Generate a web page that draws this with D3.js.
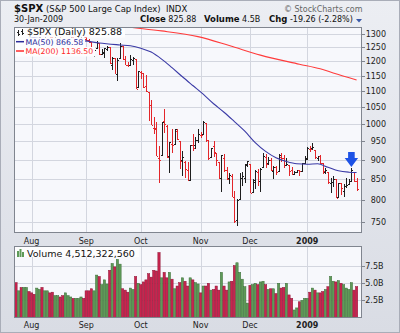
<!DOCTYPE html>
<html><head><meta charset="utf-8">
<script src="https://cdn.jsdelivr.net/npm/d3@7/dist/d3.min.js"></script>
<style>
html,body{margin:0;padding:0;background:#fff;}
svg{display:block;font-family:"DejaVu Sans",Verdana,sans-serif;}
</style></head><body>
<svg id="c" width="400" height="333"></svg>
<script>
// ---------- DATA ----------
const dates = [
"2008-07-24","2008-07-25","2008-07-28","2008-07-29","2008-07-30","2008-07-31",
"2008-08-01","2008-08-04","2008-08-05","2008-08-06","2008-08-07","2008-08-08","2008-08-11","2008-08-12","2008-08-13","2008-08-14","2008-08-15","2008-08-18","2008-08-19","2008-08-20","2008-08-21","2008-08-22","2008-08-25","2008-08-26","2008-08-27","2008-08-28","2008-08-29",
"2008-09-02","2008-09-03","2008-09-04","2008-09-05","2008-09-08","2008-09-09","2008-09-10","2008-09-11","2008-09-12","2008-09-15","2008-09-16","2008-09-17","2008-09-18","2008-09-19","2008-09-22","2008-09-23","2008-09-24","2008-09-25","2008-09-26","2008-09-29","2008-09-30",
"2008-10-01","2008-10-02","2008-10-03","2008-10-06","2008-10-07","2008-10-08","2008-10-09","2008-10-10","2008-10-13","2008-10-14","2008-10-15","2008-10-16","2008-10-17","2008-10-20","2008-10-21","2008-10-22","2008-10-23","2008-10-24","2008-10-27","2008-10-28","2008-10-29","2008-10-30","2008-10-31",
"2008-11-03","2008-11-04","2008-11-05","2008-11-06","2008-11-07","2008-11-10","2008-11-11","2008-11-12","2008-11-13","2008-11-14","2008-11-17","2008-11-18","2008-11-19","2008-11-20","2008-11-21","2008-11-24","2008-11-25","2008-11-26","2008-11-28",
"2008-12-01","2008-12-02","2008-12-03","2008-12-04","2008-12-05","2008-12-08","2008-12-09","2008-12-10","2008-12-11","2008-12-12","2008-12-15","2008-12-16","2008-12-17","2008-12-18","2008-12-19","2008-12-22","2008-12-23","2008-12-24","2008-12-26","2008-12-29","2008-12-30","2008-12-31",
"2009-01-02","2009-01-05","2009-01-06","2009-01-07","2009-01-08","2009-01-09","2009-01-12","2009-01-13","2009-01-14","2009-01-15","2009-01-16","2009-01-20","2009-01-21","2009-01-22","2009-01-23","2009-01-26","2009-01-27","2009-01-28","2009-01-29","2009-01-30"];

const open = [
1283,1252.5,1257.8,1236,1264,1281,
1269,1253,1254,1284,1286,1266,1294,1304,1288,1283,1293,1298,1277,1267,1271,1277,1290,1268,1271,1283,1296,
1287,1276,1271,1233,1249,1268,1227,1229,1245,1250,1188,1211,1157,1213,1255,1207,1189,1187,1204,1209,1113,
1162,1160,1115,1097,1057,988,988,903,912,1009,994,909,942,943,980,951,899,895,874,849,939,939,953,
968,971,1001,952,908,937,917,893,853,904,873,853,859,806,755,801,853,853,886,
888,818,843,869,845,882,906,892,898,871,881,871,908,905,886,887,874,863,869,873,871,890,
902,929,931,927,905,909.9,890,869,867,841,844,849.6,806.8,839.7,822,832.5,837,845.7,868.9,845.7];

const high = [
1283,1263,1260,1264,1284.5,1285,
1270,1260,1285.5,1292,1286,1297,1313,1304,1294,1300,1302,1300,1281,1277,1281,1293,1290,1275,1290,1301,1296,
1303,1281,1271,1244,1274,1268,1243,1249,1255,1250,1214,1211,1211,1265,1255,1220,1198,1221,1215,1209,1168,
1167,1160,1153,1097,1072,1021,1006,936,1006,1044,995,948,984,985,985,951,922,896,893,940.5,969,963,984,
975,1007.5,1001,952,931,951,917,893,913,916,882,865,864,821,801,865,868.9,888,896.3,
888,850.5,873,876,879,918.6,916,908,905,883,884,914.7,918.9,911,905,887,880,869.8,873.7,873.7,891,910,
934.7,936.6,943.9,927,910,911.9,890,877,867,851.6,858,849.6,841,839.7,838.6,852.5,851,877,868.9,851.7];

const low = [
1251,1251,1234,1233,1264,1267,
1254,1247,1254,1276,1264,1263,1292,1285,1274,1276,1290,1274,1261,1261,1263,1277,1264,1263,1270,1283,1280,
1273,1265,1232,1217,1247,1224,1221,1211,1236,1192,1169,1156,1133,1213,1205,1187,1180,1187,1187,1106,1113,
1140,1111,1098,1007,996,970,909,839.8,912,972,903,865.8,918,938,952,875,858,852,846,845,922,928,944,
958,971,949,899,906,907,884,850,818.7,869,848,837,806,747.8,741,801,834,841,881,
815.7,817,827,833,818,882,879,885,871,851,861,868,895,877,883,857,860,861,866.5,857,870,889,
899,919.5,927,902,896.8,888.3,864,862,836.9,817,830.7,804.5,804,811.3,806,827.7,835.6,845.7,844.1,821.7];

const close = [
1252.54,1257.76,1234.37,1263.20,1284.26,1267.38,
1260.31,1249.01,1284.88,1289.19,1266.07,1296.32,1305.32,1289.59,1285.83,1292.93,1298.20,1278.60,1266.69,1274.54,1277.72,1292.20,1266.84,1271.51,1281.66,1300.68,1282.83,
1277.58,1274.98,1236.83,1242.31,1267.79,1224.51,1232.04,1249.05,1251.70,1192.70,1213.60,1156.39,1206.51,1255.08,1207.09,1188.22,1185.87,1209.18,1213.27,1106.42,1166.36,
1161.06,1114.28,1099.23,1056.89,996.23,984.94,909.92,899.22,1003.35,998.01,907.84,946.43,940.55,985.40,955.05,896.78,908.11,876.77,848.92,940.51,930.09,954.09,968.75,
966.30,1005.75,952.77,904.88,930.99,919.21,898.95,852.30,911.29,873.29,850.75,859.12,806.58,752.44,800.03,851.81,857.39,887.68,896.24,
816.21,848.81,870.74,845.22,876.07,909.70,888.67,899.24,873.59,879.73,868.57,913.18,904.42,885.28,887.88,871.63,863.16,868.15,872.80,869.42,890.64,903.25,
931.80,927.45,934.70,906.65,909.73,890.35,870.26,871.79,842.62,843.74,850.12,805.22,840.24,827.50,831.95,836.57,845.71,874.09,845.14,825.88];
const prevClose = 1282.19;

// volume, billions of shares
const volume = [
5.1,3.9,4.4,4.4,4.4,3.8,
3.6,3.4,4.3,4.1,4.4,3.9,3.9,3.6,3.7,3.2,3.2,3.0,3.2,3.6,3.2,3.0,2.8,2.8,2.8,3.0,2.8,
3.9,3.9,4.2,3.9,6.2,6.0,4.8,5.5,4.9,6.9,7.9,7.4,8.5,7.8,4.2,4.0,3.7,4.3,4.1,6.0,5.0,
4.8,5.2,5.5,6.4,5.9,6.9,6.8,9.5,5.8,6.6,5.8,6.6,5.6,4.2,4.6,5.1,5.8,5.3,4.6,5.8,5.5,5.1,4.9,
3.6,4.6,4.6,5.0,4.0,4.1,4.6,4.0,6.6,4.6,4.0,5.2,5.3,7.6,8.0,6.6,5.6,4.5,2.1,
4.7,4.8,5.0,4.8,5.2,5.3,4.8,4.1,4.2,4.2,3.5,5.0,4.3,4.4,5.0,3.3,2.8,1.1,1.4,2.3,2.5,2.8,
2.8,3.7,4.3,4.0,3.6,3.6,3.8,4.1,4.5,6.0,5.3,5.2,5.4,5.0,4.8,4.3,4.1,5.1,4.0,4.51];

const ma50Dates = ["2008-07-24","2008-08-05","2008-08-15","2008-08-29","2008-09-09","2008-09-19","2008-09-25","2008-10-01","2008-10-07","2008-10-13","2008-10-17","2008-10-23","2008-10-29","2008-11-04","2008-11-10","2008-11-14","2008-11-20","2008-11-26","2008-12-03","2008-12-09","2008-12-15","2008-12-19","2008-12-26","2009-01-02","2009-01-08","2009-01-14","2009-01-21","2009-01-27","2009-01-30"];
const ma50Values = [1300,1285,1276,1274,1266,1259,1256,1247,1233,1208,1178,1147,1118,1090,1060,1034,1006,978,946,922,905,895,889,888,889,880,871,867.5,866.58];

const ma200Dates = ["2008-07-24","2008-08-07","2008-08-21","2008-09-05","2008-09-24","2008-10-13","2008-10-31","2008-11-18","2008-12-05","2008-12-29","2009-01-09","2009-01-16","2009-01-30"];
const ma200Values = [1382,1371,1359,1345,1327,1312,1290,1257,1222,1190,1174,1160,1136.5];

const priceTicks = [750,800,850,900,950,1000,1050,1100,1150,1200,1250,1300];
const volTicks = [2.5,5,7.5];
const volTickLabels = ["2.5B","5.0B","7.5B"];
const monthTickDates = ["2008-08-01","2008-09-02","2008-10-01","2008-11-03","2008-12-01","2009-01-02"];
const monthLabels = ["Aug","Sep","Oct","Nov","Dec","2009"];
const arrowDate = "2009-01-28";

// ---------- LAYOUT ----------
const svg = d3.select("#c");
const P = {l:14, r:362, t:27, b:233};
const V = {l:14, r:362, t:246, b:318};

const defs = svg.append("defs");
const g1 = defs.append("linearGradient").attr("id","bg").attr("x1",0).attr("y1",0).attr("x2",0).attr("y2",1);
g1.append("stop").attr("offset","0%").attr("stop-color","#eceef3");
g1.append("stop").attr("offset","100%").attr("stop-color","#d9dce4");
defs.append("clipPath").attr("id","clipP").append("rect").attr("x",P.l).attr("y",P.t).attr("width",P.r-P.l).attr("height",P.b-P.t);
defs.append("clipPath").attr("id","clipV").append("rect").attr("x",V.l).attr("y",V.t).attr("width",V.r-V.l).attr("height",V.b-V.t);

svg.append("rect").attr("x",0).attr("y",0).attr("width",400).attr("height",333).attr("fill","url(#bg)");
svg.append("rect").attr("x",0.5).attr("y",0.5).attr("width",399).attr("height",332).attr("fill","none").attr("stroke","#a9adb8");

const x = d3.scaleBand().domain(dates).range([14.7, 357.9]).padding(0);
const xc = d => x(d) + x.bandwidth()/2;
const y = d3.scaleLog().domain([726, 1327]).range([P.b, P.t]);
const yv = d3.scaleLinear().domain([0, 10.45]).range([317.5, V.t]);

// panels
[P, V].forEach(p => {
  svg.append("rect").attr("x",p.l).attr("y",p.t).attr("width",p.r-p.l).attr("height",p.b-p.t).attr("fill","#f7f8fc");
});

// grids
const grid = svg.append("g").attr("stroke","#d3d6df").attr("stroke-width",1).attr("shape-rendering","crispEdges");
priceTicks.forEach(t => grid.append("line").attr("x1",P.l).attr("x2",P.r).attr("y1",Math.round(y(t))+0.5).attr("y2",Math.round(y(t))+0.5));
volTicks.forEach(t => grid.append("line").attr("x1",V.l).attr("x2",V.r).attr("y1",Math.round(yv(t))+0.5).attr("y2",Math.round(yv(t))+0.5));
monthTickDates.forEach(d => {
  const xx = Math.round(xc(d))+0.5;
  grid.append("line").attr("x1",xx).attr("x2",xx).attr("y1",P.t).attr("y2",P.b);
  grid.append("line").attr("x1",xx).attr("x2",xx).attr("y1",V.t).attr("y2",V.b);
});

// up/down
const up = close.map((c,i) => c >= (i===0 ? prevClose : close[i-1]));

// price bars
const bars = svg.append("g").attr("clip-path","url(#clipP)").attr("shape-rendering","crispEdges");
dates.forEach((d,i) => {
  const cx = Math.round(xc(d)) + 0.5;
  const col = up[i] ? "#1e1e1e" : "#e3262a";
  const g = bars.append("g").attr("stroke",col).attr("stroke-width",1);
  g.append("line").attr("x1",cx).attr("x2",cx).attr("y1",y(high[i])).attr("y2",y(low[i]));
  g.append("line").attr("x1",cx-1.5).attr("x2",cx).attr("y1",Math.round(y(open[i]))+0.5).attr("y2",Math.round(y(open[i]))+0.5);
  g.append("line").attr("x1",cx).attr("x2",cx+1.5).attr("y1",Math.round(y(close[i]))+0.5).attr("y2",Math.round(y(close[i]))+0.5);
});

// moving averages
const lineGen = d3.line().x(d => xc(d[0])).y(d => y(d[1])).curve(d3.curveMonotoneX);
const ma = svg.append("g").attr("clip-path","url(#clipP)").attr("fill","none");
ma.append("path").attr("d", lineGen(ma200Dates.map((d,i)=>[d,ma200Values[i]]))).attr("stroke","#ff3b3b").attr("stroke-width",1.1);
ma.append("path").attr("d", lineGen(ma50Dates.map((d,i)=>[d,ma50Values[i]]))).attr("stroke","#3a3aa6").attr("stroke-width",1.1);

// volume bars
const vb = svg.append("g").attr("clip-path","url(#clipV)");
dates.forEach((d,i) => {
  const cx = xc(d);
  const top = yv(volume[i]);
  vb.append("rect").attr("x",cx-1.15).attr("y",top).attr("width",2.3).attr("height",yv(0)-top)
    .attr("fill", up[i] ? "#5e9a58" : "#c8244e")
    .attr("stroke", up[i] ? "#3c6e38" : "#8e1436").attr("stroke-width",0.5);
});

// panel borders
[P, V].forEach(p => {
  svg.append("rect").attr("x",p.l+0.5).attr("y",p.t+0.5).attr("width",p.r-p.l-1).attr("height",p.b-p.t-1)
    .attr("fill","none").attr("stroke","#80858f").attr("shape-rendering","crispEdges");
});

// axis labels
const axTxt = svg.append("g").attr("font-size","8px").attr("fill","#222");
priceTicks.forEach(t => {
  axTxt.append("text").attr("x",386).attr("y",y(t)+3).attr("text-anchor","end").text(t);
  svg.append("line").attr("x1",P.r).attr("x2",P.r+3).attr("y1",Math.round(y(t))+0.5).attr("y2",Math.round(y(t))+0.5).attr("stroke","#80858f");
});
volTicks.forEach((t,i) => {
  axTxt.append("text").attr("x",383.5).attr("y",yv(t)+3).attr("text-anchor","end").text(volTickLabels[i]);
  svg.append("line").attr("x1",V.r).attr("x2",V.r+3).attr("y1",Math.round(yv(t))+0.5).attr("y2",Math.round(yv(t))+0.5).attr("stroke","#80858f");
});
monthTickDates.forEach((d,i) => {
  [244, 328].forEach(yy => {
    axTxt.append("text").attr("x",xc(d)).attr("y",yy).attr("text-anchor","middle")
      .attr("font-weight", monthLabels[i]==="2009" ? "bold" : "normal").text(monthLabels[i]);
  });
});

// legends
const lg = svg.append("g");
lg.append("rect").attr("x",15).attr("y",28).attr("width",110).attr("height",9.5).attr("fill","#fdfdfe");
lg.append("rect").attr("x",15).attr("y",37.5).attr("width",70).attr("height",9.5).attr("fill","#fdfdfe");
lg.append("rect").attr("x",15).attr("y",47).attr("width",80).attr("height",9.5).attr("fill","#fdfdfe");
// ohlc icon
const ic = lg.append("g").attr("stroke","#222").attr("stroke-width",1).attr("shape-rendering","crispEdges");
[[18.5,29.5,35.5],[22.5,28.5,34.5]].forEach(([xx,a,b]) => {
  ic.append("line").attr("x1",xx).attr("x2",xx).attr("y1",a).attr("y2",b);
  ic.append("line").attr("x1",xx-1.5).attr("x2",xx).attr("y1",a+2.5).attr("y2",a+2.5);
  ic.append("line").attr("x1",xx).attr("x2",xx+1.5).attr("y1",b-1.5).attr("y2",b-1.5);
});
lg.append("text").attr("x",27).attr("y",35.3).attr("font-size","9.5px").attr("fill","#111").text("$SPX (Daily) 825.88");
lg.append("line").attr("x1",16).attr("x2",24).attr("y1",41.7).attr("y2",41.7).attr("stroke","#2b2b9a").attr("stroke-width",1.5);
lg.append("text").attr("x",25.5).attr("y",44.8).attr("font-size","7.8px").attr("fill","#2b2b9a").text("MA(50) 866.58");
lg.append("line").attr("x1",16).attr("x2",24).attr("y1",51).attr("y2",51).attr("stroke","#ff2a2a").attr("stroke-width",1.5);
lg.append("text").attr("x",25.5).attr("y",54).attr("font-size","7.8px").attr("fill","#ff2a2a").text("MA(200) 1136.50");

const vl = svg.append("g").attr("font-size","9.5px");
vl.append("rect").attr("x",15).attr("y",247).attr("width",124).attr("height",10).attr("fill","#fdfdfe");
[[17,251,257],[19.5,249,257],[22,252,257]].forEach(([xx,a,b]) => {
  vl.append("rect").attr("x",xx).attr("y",a).attr("width",2).attr("height",b-a).attr("fill","#5e9a58");
});
vl.append("text").attr("x",27).attr("y",256.8).attr("fill","#111").text("Volume 4,512,322,560");

// arrow annotation
const ax = xc(arrowDate), ayb = y(high[dates.indexOf(arrowDate)]) - 1.5;
svg.append("path").attr("d",
  `M${ax-3.3},${ayb-15} L${ax+3.3},${ayb-15} L${ax+3.3},${ayb-9} L${ax+6.7},${ayb-9} L${ax},${ayb} L${ax-6.7},${ayb-9} L${ax-3.3},${ayb-9} Z`)
  .attr("fill","#1d52e6");

// header
const hd = svg.append("g").attr("fill","#111");
hd.append("text").attr("x",14).attr("y",11.5).attr("font-size","10px").attr("font-weight","bold").text("$SPX");
hd.append("text").attr("x",46).attr("y",11.5).attr("font-size","8.5px").text("(S&P 500 Large Cap Index)");
hd.append("text").attr("x",166).attr("y",11.5).attr("font-size","8.5px").text("INDX");
hd.append("text").attr("x",284).attr("y",11.5).attr("font-size","8px").attr("fill","#666").text("© StockCharts.com");
hd.append("text").attr("x",14).attr("y",22.3).attr("font-size","8px").text("30-Jan-2009");
const l2 = hd.append("text").attr("y",22.3).attr("font-size","8px");
l2.append("tspan").attr("x",140).attr("font-weight","bold").attr("font-size","8.5px").text("Close");
l2.append("tspan").text(" 825.88");
l2.append("tspan").attr("x",204).attr("font-weight","bold").attr("font-size","8.5px").text("Volume");
l2.append("tspan").text(" 4.5B");
l2.append("tspan").attr("x",269).attr("font-weight","bold").attr("font-size","8.5px").text("Chg");
l2.append("tspan").text(" -19.26 (-2.28%)");
svg.append("path").attr("d","M356,19 L362,19 L359,22.5 Z").attr("fill","#3a5aa8");
</script>
</body></html>
